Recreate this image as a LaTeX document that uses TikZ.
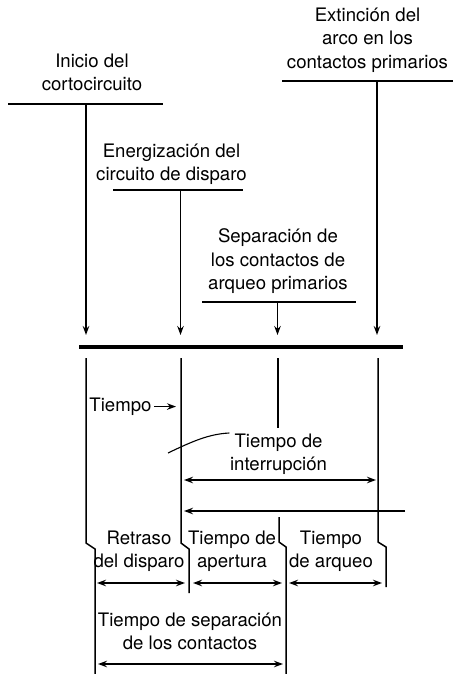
\documentclass[tikz,border=0pt]{standalone}
\usepackage{fontspec}
\setmainfont{TeX Gyre Heros}
\usetikzlibrary{arrows.meta}

\begin{document}
\begin{tikzpicture}[
  x=1pt, y=-1pt,
  line width=1.5pt, line cap=butt, line join=miter,
  >={Stealth[length=9pt, width=6.5pt]},
  lbl/.style = {font=\fontsize{18.6}{23.5}\selectfont, align=center,
                inner sep=0pt, anchor=north},
  bar/.style = {line width=4.5pt}
]
\useasboundingbox (0,0) rectangle (453,674);

% eventos
\node[lbl] (inicio) at (92,53) {Inicio del\\cortocircuito};
\node[lbl] (energ) at (171.5,143) {Energización del\\circuito de disparo};
\node[lbl] (separ) at (278,228) {Separación de\\los contactos de\\arqueo primarios};
\node[lbl] (extin) at (367.5,7) {Extinción del\\arco en los\\contactos primarios};

% barra de tiempo
\coordinate (bl) at (79,347);
\coordinate (br) at (403,347);
\draw[bar] (bl) -- (br);

% subrayados y flechas hacia la barra
\foreach \x/\yl/\xa/\xb in {86/104/8/163, 180.5/190/113/243,
                            277.5/302/202/356, 377/81/282/453} {
  \draw (\xa,\yl) -- (\xb,\yl);
  \draw[->] (\x,\yl) -- (\x,335);
}

% lineas bajo la barra
\draw (86,358) -- (86,543) -- (95,549) -- (95,674);
\draw (181,358) -- (181,543) -- (189,549) -- (189,593);
\draw (278,358) -- (278,428);
\draw (279,517) -- (279,542) -- (286,547) -- (286,674);
\draw (378,358) -- (378,542) -- (386,547) -- (386,587);

% tiempo
\node[lbl] (tiempo) at (120.5,397) {Tiempo};
\coordinate (tfin) at (176,404);
\draw[->] ([xshift=2pt]tiempo.east) -- (tiempo.east -| tfin);

% interrupcion
\node[lbl] (interr) at (278.5,433) {Tiempo de\\interrupción};
\coordinate (guia) at (168,453);
\draw[line width=1.1pt] (interr.north west) .. controls +(-20,1) and +(25,-12) .. (guia);
\coordinate (ia) at (184,480);
\coordinate (ib) at (376,480);
\draw[<->] (ia) -- (ib);
\coordinate (la) at (405,511);
\coordinate (lb) at (184,511);
\draw[->] (la) -- (lb);

% intervalos
\node[lbl] (retraso) at (139,530) {Retraso\\del disparo};
\node[lbl] (apert) at (232,530) {Tiempo de\\apertura};
\node[lbl] (arqueo) at (331,530) {Tiempo\\de arqueo};
\draw[<->] (97,583) -- (185,583);
\draw[<->] (193,583) -- (282,583);
\draw[<->] (289,583) -- (382,583);

\node[lbl] (sepcont) at (190,612) {Tiempo de separación\\de los contactos};
\draw[<->] (98,664) -- (283,664);

\end{tikzpicture}
\end{document}
